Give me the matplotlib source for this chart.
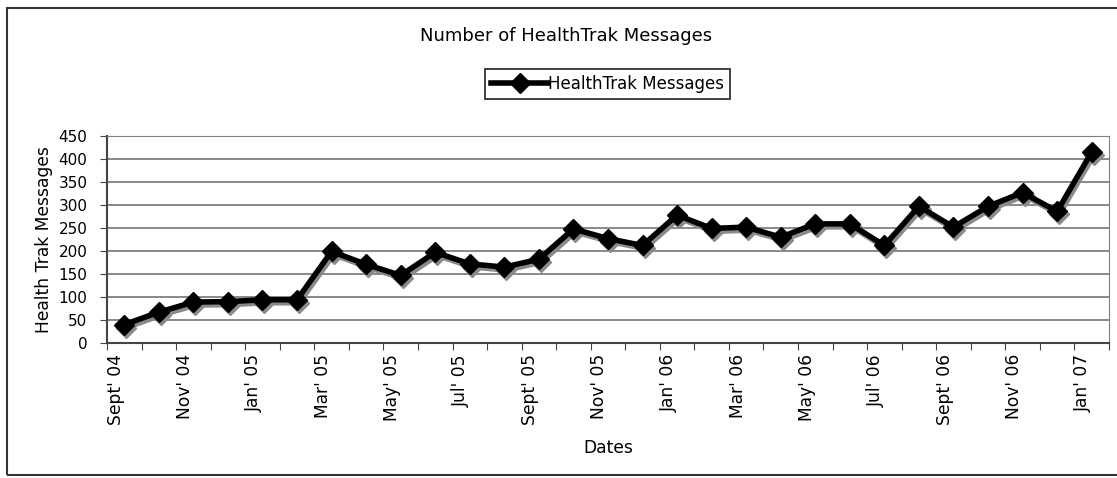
import matplotlib
matplotlib.use("Agg")
import matplotlib.pyplot as plt
from matplotlib.patches import Rectangle
from matplotlib.transforms import offset_copy

# monthly counts, Sept 04 .. Jan 07
months = ["Sep04", "Oct04", "Nov04", "Dec04", "Jan05", "Feb05", "Mar05", "Apr05",
          "May05", "Jun05", "Jul05", "Aug05", "Sep05", "Oct05", "Nov05", "Dec05",
          "Jan06", "Feb06", "Mar06", "Apr06", "May06", "Jun06", "Jul06", "Aug06",
          "Sep06", "Oct06", "Nov06", "Dec06", "Jan07"]
messages = [40, 67, 89, 90, 94, 94, 199, 171, 147, 197, 172, 165, 182,
            248, 227, 212, 278, 249, 252, 230, 259, 259, 212, 297,
            252, 297, 327, 286, 415]
tick_labels = ["Sept' 04", "Nov' 04", "Jan' 05", "Mar' 05", "May' 05", "Jul' 05",
               "Sept' 05", "Nov' 05", "Jan' 06", "Mar' 06", "May' 06", "Jul' 06",
               "Sept' 06", "Nov' 06", "Jan' 07"]
y_ticks = [0, 50, 100, 150, 200, 250, 300, 350, 400, 450]

fig = plt.figure(figsize=(11.17, 4.78), dpi=100)
fig.patches.append(Rectangle((0.006, 0.006), 1.2, 0.977, transform=fig.transFigure,
                             fill=False, edgecolor="#333333", linewidth=1.5))
ax = fig.add_axes([0.0958, 0.2824, 0.8970, 0.4331])

x = list(range(len(messages)))
# drop shadow, then the series itself
shadow = offset_copy(ax.transData, fig=fig, x=2, y=-3, units="dots")
ax.plot(x, messages, color="#8a8a8a", linewidth=4, marker="D", markersize=10,
        transform=shadow, zorder=2)
ax.plot(x, messages, color="black", linewidth=4, marker="D", markersize=10,
        label="HealthTrak Messages", zorder=3)

ax.set_xlim(-0.5, len(messages) - 0.5)
ax.set_ylim(0, 450)
ax.set_yticks(y_ticks)
ax.yaxis.grid(True, color="#808080", linewidth=1.3)
ax.set_axisbelow(True)

# ticks at category boundaries, labels every other month
ax.set_xticks([i - 0.5 for i in range(len(messages) + 1)])
ax.set_xticklabels([])
ax.set_xticks([i - 0.25 for i in range(0, len(messages), 2)], minor=True)
ax.set_xticklabels(tick_labels, minor=True, rotation=90, fontsize=12.3)
ax.tick_params(axis="x", which="major", length=5, direction="out", color="#444444")
ax.tick_params(axis="x", which="minor", length=0, pad=8)
ax.tick_params(axis="y", length=5, pad=9, labelsize=11, color="#444444")

for s in ["top", "right"]:
    ax.spines[s].set_color("#808080")
ax.spines["left"].set_color("#444444")
ax.spines["bottom"].set_color("#444444")
ax.spines["left"].set_linewidth(1.5)
ax.spines["bottom"].set_linewidth(1.5)

ax.set_ylabel("Health Trak Messages", fontsize=12.3, labelpad=4)
ax.set_xlabel("Dates", fontsize=12.3, labelpad=10)

fig.text(0.507, 0.925, "Number of HealthTrak Messages", ha="center", va="center", fontsize=13)
leg = fig.legend(loc="center", bbox_to_anchor=(0.544, 0.824), fontsize=12,
                 frameon=True, fancybox=False, edgecolor="black", handlelength=3.4,
                 handletextpad=0.0, borderpad=0.35, borderaxespad=0)
leg.get_frame().set_linewidth(1.3)

fig.savefig("out.png", dpi=100)
